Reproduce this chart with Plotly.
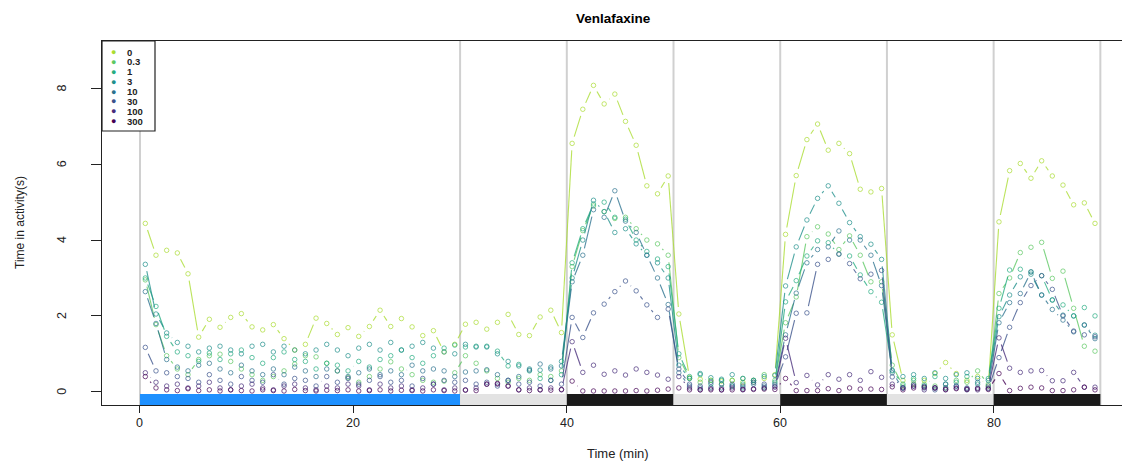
import math
import plotly.graph_objects as go

# ---------------- data ----------------
time_min = [
    0.5, 1.5, 2.5, 3.5, 4.5, 5.5, 6.5, 7.5, 8.5, 9.5,
    10.5, 11.5, 12.5, 13.5, 14.5, 15.5, 16.5, 17.5, 18.5, 19.5,
    20.5, 21.5, 22.5, 23.5, 24.5, 25.5, 26.5, 27.5, 28.5, 29.5,
    30.5, 31.5, 32.5, 33.5, 34.5, 35.5, 36.5, 37.5, 38.5, 39.5,
    40.5, 41.5, 42.5, 43.5, 44.5, 45.5, 46.5, 47.5, 48.5, 49.5,
    50.5, 51.5, 52.5, 53.5, 54.5, 55.5, 56.5, 57.5, 58.5, 59.5,
    60.5, 61.5, 62.5, 63.5, 64.5, 65.5, 66.5, 67.5, 68.5, 69.5,
    70.5, 71.5, 72.5, 73.5, 74.5, 75.5, 76.5, 77.5, 78.5, 79.5,
    80.5, 81.5, 82.5, 83.5, 84.5, 85.5, 86.5, 87.5, 88.5, 89.5,
]

doses = ["0", "0.3", "1", "3", "10", "30", "100", "300"]
dose_colors = ["#AADC32", "#5DC863", "#27AD81", "#21908C",
               "#2C728E", "#3B528B", "#472D7B", "#440154"]

dose_0 = [
    4.44, 3.60, 3.73, 3.66, 3.11, 1.44, 1.91, 1.70, 1.96, 2.06,
    1.71, 1.63, 1.77, 1.40, 1.10, 1.25, 1.94, 1.80, 1.51, 1.69,
    1.46, 1.72, 2.15, 1.72, 1.93, 1.71, 1.48, 1.61, 1.05, 1.25,
    1.78, 1.83, 1.65, 1.83, 2.04, 1.51, 1.48, 1.97, 2.15, 1.56,
    6.55, 7.45, 8.08, 7.59, 7.85, 7.13, 6.50, 5.43, 5.22, 5.69,
    2.05, 0.37, 0.33, 0.30, 0.28, 0.30, 0.25, 0.30, 0.35, 0.45,
    4.15, 5.70, 6.65, 7.06, 6.37, 6.55, 6.28, 5.34, 5.27, 5.36,
    1.50, 0.30, 0.20, 0.30, 0.48, 0.77, 0.48, 0.30, 0.40, 0.15,
    4.48, 5.83, 6.02, 5.63, 6.09, 5.69, 5.45, 4.93, 4.98, 4.44,
]
dose_0_3 = [
    2.95, 1.77, 0.95, 0.60, 0.45, 0.85, 0.95, 0.99, 0.80, 0.60,
    0.45, 0.30, 0.40, 0.55, 0.73, 0.95, 0.92, 0.75, 0.55, 0.37,
    0.25, 0.40, 0.60, 0.79, 0.60, 0.45, 0.30, 0.25, 0.28, 0.50,
    0.95, 0.75, 0.55, 0.35, 0.25, 0.35, 0.30, 0.45, 0.40, 0.55,
    3.30, 4.25, 4.90, 4.75, 4.57, 4.60, 4.30, 4.00, 3.90, 3.60,
    0.90, 0.35, 0.25, 0.30, 0.20, 0.30, 0.35, 0.25, 0.45, 0.30,
    1.82, 2.50, 4.09, 4.35, 4.16, 3.75, 4.11, 3.60, 2.90, 2.90,
    0.70, 0.15, 0.30, 0.20, 0.15, 0.10, 0.30, 0.25, 0.55, 0.20,
    2.59, 3.00, 3.67, 3.81, 3.94, 2.99, 3.18, 2.20, 1.20, 1.07,
]
dose_1 = [
    3.00, 2.25, 1.46, 1.05, 0.95, 0.80, 1.02, 0.85, 1.00, 1.10,
    0.90, 0.75, 0.90, 1.05, 0.85, 0.80, 0.60, 0.75, 0.70, 0.55,
    0.80, 0.65, 0.85, 0.95, 1.10, 0.90, 0.75, 0.95, 1.15, 1.23,
    1.18, 1.20, 1.20, 1.07, 0.68, 0.72, 0.55, 0.35, 0.30, 0.45,
    3.40, 4.30, 4.95, 5.00, 4.60, 4.55, 4.00, 3.70, 3.50, 3.30,
    1.00, 0.40, 0.45, 0.20, 0.30, 0.15, 0.20, 0.30, 0.10, 0.25,
    2.37, 2.93, 3.58, 3.98, 3.93, 3.63, 3.58, 3.08, 2.64, 2.36,
    0.55, 0.20, 0.35, 0.15, 0.40, 0.20, 0.25, 0.40, 0.20, 0.35,
    2.20, 3.21, 3.23, 3.16, 3.06, 2.42, 2.29, 2.00, 2.22, 2.00,
]
dose_3 = [
    3.36, 2.05, 1.55, 1.30, 1.20, 1.05, 1.15, 1.20, 1.10, 1.00,
    1.20, 1.25, 1.05, 1.20, 1.10, 1.00, 1.10, 1.25, 1.10, 0.95,
    1.15, 1.25, 1.10, 1.30, 1.10, 1.20, 1.30, 1.15, 1.05, 1.00,
    1.25, 1.18, 1.18, 1.00, 0.80, 0.68, 0.60, 0.57, 0.65, 0.80,
    3.00, 4.00, 5.05, 4.75, 4.20, 4.30, 3.90, 3.60, 3.40, 3.00,
    0.70, 0.35, 0.48, 0.37, 0.33, 0.45, 0.35, 0.30, 0.40, 0.43,
    2.79, 3.82, 4.53, 5.10, 5.43, 4.97, 4.46, 4.09, 3.89, 3.49,
    0.57, 0.40, 0.45, 0.35, 0.50, 0.35, 0.45, 0.50, 0.35, 0.30,
    1.98, 2.55, 3.03, 3.10, 2.55, 2.42, 2.02, 2.00, 1.76, 1.49,
]
dose_10 = [
    2.64, 1.80, 0.85, 0.65, 0.55, 0.70, 0.75, 0.60, 0.50, 0.70,
    0.55, 0.45, 0.60, 0.45, 0.65, 0.55, 0.40, 0.60, 0.55, 0.40,
    0.50, 0.60, 0.45, 0.55, 0.45, 0.70, 0.55, 0.60, 0.55, 0.40,
    0.52, 0.55, 0.58, 0.45, 0.30, 0.40, 0.57, 0.73, 0.60, 0.68,
    2.90, 3.60, 4.80, 4.60, 5.30, 4.50, 4.20, 3.60, 3.00, 2.30,
    0.50, 0.15, 0.10, 0.12, 0.20, 0.15, 0.10, 0.20, 0.15, 0.20,
    1.50, 2.60, 3.40, 3.75, 3.82, 4.24, 4.00, 4.00, 3.60, 2.80,
    0.50, 0.10, 0.20, 0.15, 0.10, 0.20, 0.15, 0.10, 0.25, 0.15,
    1.82, 2.35, 2.59, 3.16, 2.55, 2.17, 1.89, 1.58, 1.76, 1.40,
]
dose_30 = [
    1.17, 0.55, 0.50, 0.40, 0.35, 0.25, 0.45, 0.30, 0.20, 0.40,
    0.30, 0.25, 0.45, 0.20, 0.35, 0.30, 0.15, 0.40, 0.25, 0.35,
    0.20, 0.30, 0.40, 0.25, 0.30, 0.15, 0.35, 0.20, 0.30, 0.25,
    0.30, 0.20, 0.25, 0.15, 0.30, 0.20, 0.25, 0.15, 0.30, 0.20,
    1.96, 1.43, 2.08, 2.31, 2.64, 2.92, 2.66, 2.29, 1.96, 2.18,
    0.60, 0.20, 0.15, 0.25, 0.10, 0.20, 0.15, 0.25, 0.20, 0.15,
    0.92, 2.07, 2.08, 3.36, 3.49, 3.63, 3.38, 2.98, 3.10, 3.20,
    0.39, 0.10, 0.15, 0.10, 0.05, 0.10, 0.15, 0.05, 0.10, 0.08,
    0.90, 1.70, 2.35, 2.80, 3.06, 2.70, 2.00, 1.60, 1.50, 1.45,
]
dose_100 = [
    0.50, 0.25, 0.15, 0.20, 0.10, 0.15, 0.25, 0.10, 0.05, 0.15,
    0.20, 0.10, 0.05, 0.15, 0.20, 0.10, 0.05, 0.15, 0.10, 0.20,
    0.15, 0.05, 0.20, 0.10, 0.15, 0.05, 0.10, 0.20, 0.05, 0.10,
    0.05, 0.10, 0.20, 0.20, 0.15, 0.05, 0.10, 0.05, 0.10, 0.05,
    1.32, 0.51, 0.70, 0.46, 0.55, 0.44, 0.60, 0.51, 0.44, 0.33,
    0.40, 0.10, 0.05, 0.08, 0.05, 0.10, 0.05, 0.08, 0.10, 0.12,
    1.41, 0.24, 0.43, 0.18, 0.45, 0.33, 0.45, 0.30, 0.53, 0.38,
    0.20, 0.10, 0.15, 0.05, 0.10, 0.05, 0.10, 0.08, 0.05, 0.10,
    1.42, 0.62, 0.51, 0.55, 0.56, 0.29, 0.29, 0.51, 0.12, 0.12,
]
dose_300 = [
    0.40, 0.10, 0.05, 0.03, 0.08, 0.03, 0.05, 0.02, 0.05, 0.03,
    0.02, 0.05, 0.03, 0.02, 0.06, 0.03, 0.02, 0.04, 0.03, 0.05,
    0.02, 0.03, 0.05, 0.02, 0.04, 0.03, 0.02, 0.05, 0.03, 0.02,
    0.04, 0.03, 0.20, 0.22, 0.15, 0.05, 0.03, 0.05, 0.04, 0.06,
    0.28, 0.02, 0.02, 0.02, 0.02, 0.02, 0.03, 0.02, 0.04, 0.07,
    0.10, 0.05, 0.05, 0.05, 0.05, 0.05, 0.06, 0.06, 0.07, 0.06,
    0.35, 0.03, 0.03, 0.03, 0.08, 0.03, 0.10, 0.07, 0.07, 0.06,
    0.13, 0.05, 0.10, 0.12, 0.10, 0.06, 0.08, 0.06, 0.08, 0.06,
    0.48, 0.03, 0.09, 0.12, 0.10, 0.03, 0.03, 0.05, 0.12, 0.05,
]
series_values = [dose_0, dose_0_3, dose_1, dose_3, dose_10, dose_30, dose_100, dose_300]

phase_start = [0, 30, 40, 50, 60, 70, 80]
phase_end = [30, 40, 50, 60, 70, 80, 90]
phase_colors = ["#1E90FF", "#E3E3E3", "#1A1A1A", "#E3E3E3", "#1A1A1A", "#E3E3E3", "#1A1A1A"]
boundaries = [0, 30, 40, 50, 60, 70, 80, 90]

x_ticks = [0, 20, 40, 60, 80]
y_ticks = [0, 2, 4, 6, 8]

# ---------------- layout geometry ----------------
OFF = 8                      # page body margin of the browser
W, H = 1130 - OFF, 461 - OFF
ML, MR, MT, MB = 102 - OFF, 0, 41 - OFF, H - (405 - OFF)
x_range = [-3.56, 92.78]
y_range = [-0.35, 9.25]
pw, ph = W - ML - MR, H - MT - MB
sx = pw / (x_range[1] - x_range[0])
sy = ph / (y_range[1] - y_range[0])
GAP = 7.0  # px left open around each point (R type="b")


def rgba(hexc, a):
    h = hexc.lstrip("#")
    return "rgba(%d,%d,%d,%.2f)" % (int(h[0:2], 16), int(h[2:4], 16), int(h[4:6], 16), a)


def gapped(xs, ys):
    X, Y = [], []
    for i in range(len(xs) - 1):
        dx = (xs[i + 1] - xs[i]) * sx
        dy = (ys[i + 1] - ys[i]) * sy
        L = math.hypot(dx, dy)
        if L > 2 * GAP:
            f = GAP / L
            X += [xs[i] + f * (xs[i + 1] - xs[i]), xs[i + 1] - f * (xs[i + 1] - xs[i]), None]
            Y += [ys[i] + f * (ys[i + 1] - ys[i]), ys[i + 1] - f * (ys[i + 1] - ys[i]), None]
    return X, Y


def px_x(p):   # reference-page pixel -> paper fraction
    return (p - OFF - ML) / pw


def px_y(p):
    return (H - MB - (p - OFF)) / ph


fig = go.Figure()
for name, col, vals in zip(doses, dose_colors, series_values):
    lx, ly = gapped(time_min, vals)
    fig.add_trace(go.Scatter(x=lx, y=ly, mode="lines", showlegend=False,
                             line=dict(color=rgba(col, 0.8), width=1.1),
                             hoverinfo="skip"))
    fig.add_trace(go.Scatter(x=time_min, y=vals, mode="markers", name=name, showlegend=False,
                             marker=dict(symbol="circle-open", size=4.5,
                                         color=rgba(col, 0.7), line=dict(width=1))))

shapes = []
for b in boundaries:
    shapes.append(dict(type="line", xref="x", yref="y", x0=b, x1=b, y0=y_range[0], y1=y_range[1],
                       line=dict(color="#D0D0D0", width=2), layer="below"))
for s, e, c in zip(phase_start, phase_end, phase_colors):
    shapes.append(dict(type="rect", xref="x", yref="y", x0=s, x1=e, y0=y_range[0], y1=-0.06,
                       fillcolor=c, line=dict(width=0), layer="above"))

# legend box
shapes.append(dict(type="rect", xref="paper", yref="paper",
                   x0=px_x(102), x1=px_x(155), y0=px_y(131), y1=px_y(41),
                   fillcolor="white", line=dict(color="#222222", width=1.2), layer="above"))

annotations = []
for i, (name, col) in enumerate(zip(doses, dose_colors)):
    yy = px_y(52 + i * 9.9)
    annotations.append(dict(xref="paper", yref="paper", x=px_x(113), y=yy, text="●",
                            showarrow=False, xanchor="center", yanchor="middle",
                            font=dict(color=col, size=9, family="Liberation Sans")))
    annotations.append(dict(xref="paper", yref="paper", x=px_x(125), y=yy, text="<b>%s</b>" % name,
                            showarrow=False, xanchor="left", yanchor="middle",
                            font=dict(color="#222222", size=9.5, family="Liberation Sans")))

# tick labels
for t in y_ticks:
    annotations.append(dict(xref="paper", yref="y", x=px_x(62), y=t, text=str(t),
                            showarrow=False, xanchor="center", yanchor="middle", textangle=-90,
                            font=dict(color="#222222", size=12.5, family="Liberation Sans")))
for t in x_ticks:
    annotations.append(dict(xref="x", yref="paper", x=t, y=px_y(423), text=str(t),
                            showarrow=False, xanchor="center", yanchor="middle",
                            font=dict(color="#222222", size=12.5, family="Liberation Sans")))

# titles
annotations.append(dict(xref="paper", yref="paper", x=px_x(613), y=px_y(19), text="<b>Venlafaxine</b>",
                        showarrow=False, xanchor="center", yanchor="middle",
                        font=dict(color="black", size=13.5, family="Liberation Sans")))
annotations.append(dict(xref="paper", yref="paper", x=px_x(618), y=px_y(453), text="Time (min)",
                        showarrow=False, xanchor="center", yanchor="middle",
                        font=dict(color="#222222", size=13, family="Liberation Sans")))
annotations.append(dict(xref="paper", yref="paper", x=px_x(20), y=px_y(223), text="Time in activity(s)",
                        showarrow=False, xanchor="center", yanchor="middle", textangle=-90,
                        font=dict(color="#222222", size=12, family="Liberation Sans")))

fig.update_layout(
    width=W, height=H,
    margin=dict(l=ML, r=MR, t=MT, b=MB, pad=0),
    paper_bgcolor="white", plot_bgcolor="white",
    showlegend=False,
    shapes=shapes, annotations=annotations,
    font=dict(family="Liberation Sans", color="#222222"),
    xaxis=dict(range=x_range, tickvals=x_ticks, ticks="outside", ticklen=7, tickwidth=1,
               tickcolor="#222222", showline=True, linecolor="#222222", linewidth=1.2, mirror=True,
               showgrid=False, zeroline=False, showticklabels=False),
    yaxis=dict(range=y_range, tickvals=y_ticks, ticks="outside", ticklen=10, tickwidth=1,
               tickcolor="#222222", showline=True, linecolor="#222222", linewidth=1.2,
               showgrid=False, zeroline=False, showticklabels=False),
)

fig.write_html("out.html")
